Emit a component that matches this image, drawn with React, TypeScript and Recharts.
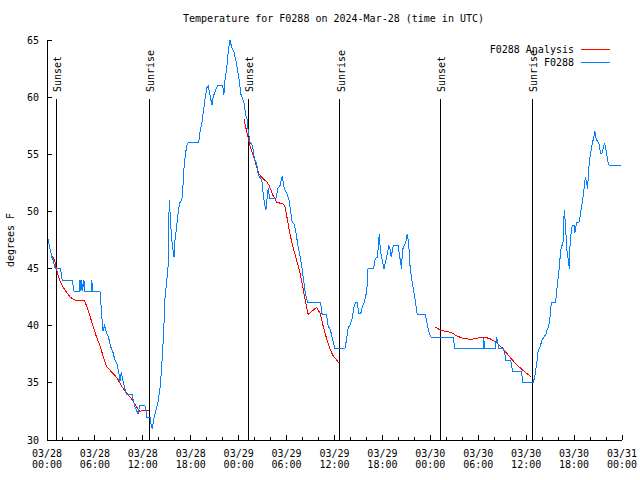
import { LineChart, Line, XAxis, YAxis, ReferenceLine, ReferenceDot, Legend } from 'recharts';

const MONO = '"DejaVu Sans Mono", "Liberation Mono", monospace';
const BLUE = '#0080ff';
const RED = '#ff0000';

// hours since 03/28 00:00 UTC
const xTicks = [0, 2, 4, 6, 8, 10, 12, 14, 16, 18, 20, 22, 24, 26, 28, 30, 32, 34, 36, 38, 40, 42, 44, 46, 48, 50, 52, 54, 56, 58, 60, 62, 64, 66, 68, 70, 72];
const tickDays = ['03/28', '03/28', '03/28', '03/28', '03/29', '03/29', '03/29', '03/29', '03/30', '03/30', '03/30', '03/30', '03/31'];
const tickClock = ['00:00', '06:00', '12:00', '18:00', '00:00', '06:00', '12:00', '18:00', '00:00', '06:00', '12:00', '18:00', '00:00'];
const yTicks = [30, 35, 40, 45, 50, 55, 60, 65];

const sunsetHours = [1.13, 25.2, 49.25];
const sunriseHours = [12.8, 36.67, 60.74];
const sunMarkTop = 59.83;

// station observations [hour, degF]
const observed: [number, number][] = [
  [0, 48], [0.3, 47], [0.6, 46], [0.75, 45.8], [0.95, 45.2], [1.05, 45], [1.7, 45], [1.9, 44],
  [3.15, 44], [3.4, 43], [4.05, 43], [4.13, 44], [4.25, 43], [4.35, 44], [4.45, 43], [4.62, 44],
  [4.75, 43], [5.55, 43], [5.6, 44], [5.75, 43], [6.63, 43], [6.8, 41.5], [7.0, 39.5], [7.2, 40],
  [7.4, 39.5], [7.7, 39], [7.95, 38.2], [8.25, 37.7], [8.5, 37], [8.75, 36.7], [9.0, 35.9], [9.12, 35.1],
  [9.3, 35.9], [9.5, 35.2], [9.75, 34.5], [9.95, 34], [10.65, 34], [10.8, 33.5], [11.0, 32.9], [11.4, 32.3],
  [11.6, 33], [12.25, 33], [12.4, 32.6], [12.47, 32], [12.9, 32], [13.05, 31.3], [13.18, 31], [13.4, 31.9],
  [13.9, 33.3], [14.2, 34.8], [14.35, 36.3], [14.5, 38], [14.64, 40], [14.77, 42.4], [14.98, 43.8], [15.18, 45.3],
  [15.3, 51], [15.45, 49.5], [15.6, 47.6], [15.9, 46], [16.0, 47.3], [16.2, 48.5], [16.4, 49.7], [16.6, 50.7],
  [16.9, 51.1], [17.06, 52.6], [17.2, 54.3], [17.5, 55.8], [17.7, 56], [19.0, 56], [19.15, 56.9], [19.36, 57.6],
  [19.57, 58.7], [19.8, 59.9], [20.0, 60.8], [20.2, 61], [20.4, 60.2], [20.65, 59.3], [20.8, 60], [21.2, 60.8],
  [21.4, 61], [22.0, 61], [22.15, 60.2], [22.3, 61.6], [22.5, 62.5], [22.7, 64], [22.9, 65], [23.15, 64.3],
  [23.4, 64], [23.65, 63.2], [23.9, 62.2], [24.1, 61.3], [24.3, 60.2], [24.5, 59.9], [24.66, 59.5], [24.9, 58.4],
  [25.07, 58], [25.2, 57], [25.4, 56.1], [25.75, 55.7], [25.9, 54.9], [26.0, 54.5], [26.25, 54.2], [26.45, 53.2],
  [26.9, 52.75], [27.1, 51.3], [27.4, 50.1], [27.7, 52], [27.9, 51.1], [28.66, 51.1], [28.9, 52], [29.2, 52.3],
  [29.45, 53.1], [29.7, 52], [30.0, 51.6], [30.3, 51], [30.5, 50], [30.7, 49.1], [31.0, 48.8], [31.25, 47.8],
  [31.45, 46.9], [31.7, 46], [31.9, 45.2], [32.1, 44.15], [32.3, 43.1], [32.5, 42.4], [32.7, 42], [34.25, 42],
  [34.45, 41], [35.0, 41], [35.2, 40], [35.5, 39.6], [35.7, 39], [36.05, 38], [37.3, 38], [37.5, 38.75],
  [37.7, 39.8], [37.9, 40], [38.2, 40.6], [38.4, 41.5], [38.6, 42], [38.85, 42], [39.05, 41.1], [39.3, 41.1],
  [39.5, 41.7], [39.7, 42], [39.9, 42.5], [40.1, 43.5], [40.2, 45], [40.9, 45], [41.1, 45.9], [41.4, 46],
  [41.5, 47.2], [41.6, 48], [41.75, 46.6], [42.0, 45.6], [42.2, 45], [42.4, 45.6], [42.6, 46.3], [42.8, 47],
  [43.0, 46.6], [43.1, 46], [43.3, 46.8], [43.4, 47], [44.0, 47], [44.1, 46.3], [44.3, 45.5], [44.4, 45],
  [44.5, 46.6], [44.7, 47], [44.9, 47.2], [45.1, 48], [45.3, 47.2], [45.4, 45.6], [45.6, 44.4], [45.75, 43.7],
  [45.97, 42.8], [46.15, 42], [46.35, 41], [47.4, 41], [47.5, 40.5], [47.7, 39.8], [47.9, 39.3], [48.1, 39],
  [50.85, 39], [51.07, 38], [54.6, 38], [54.7, 38.9], [54.8, 38], [56.1, 38], [56.3, 39], [56.5, 38.3],
  [56.6, 38], [57.1, 38], [57.3, 37.7], [57.45, 37], [58.07, 37], [58.3, 36], [59.4, 36], [59.6, 35],
  [60.86, 35], [61.07, 35.5], [61.3, 36.6], [61.5, 37.8], [61.7, 38.1], [62.0, 38.75], [62.2, 39], [62.45, 39.2],
  [62.6, 39.6], [62.8, 39.9], [62.95, 40.5], [63.08, 41.5], [63.16, 42], [63.66, 42], [63.8, 42.8], [63.9, 43.6],
  [64.08, 44.6], [64.2, 45.5], [64.3, 46.5], [64.45, 47], [64.6, 47], [64.7, 49.2], [64.8, 50.1], [64.95, 48.4],
  [65.1, 46.6], [65.3, 45.6], [65.4, 45], [65.5, 47.2], [65.67, 48.4], [65.8, 48.8], [66.0, 48.8], [66.1, 48.1],
  [66.3, 49], [66.6, 49], [66.7, 49.25], [66.9, 50.3], [67.05, 50.85], [67.2, 51.7], [67.4, 53], [67.55, 52.6],
  [67.7, 52], [67.8, 53.5], [67.96, 54.65], [68.1, 55.2], [68.25, 55.8], [68.46, 56.5], [68.6, 57], [68.8, 56.25],
  [69.1, 56], [69.3, 55.1], [69.5, 55.1], [69.8, 56], [70.0, 55.4], [70.25, 54.35], [70.4, 54], [71.9, 54],
];

// analysis runs, one per night
const analysisNight1: [number, number][] = [
  [0.7, 46.1], [1.0, 45.6], [1.2, 44.9], [1.5, 44.15], [1.84, 43.6], [2.25, 43.1], [2.9, 42.5], [3.3, 42.3],
  [3.7, 42.2], [4.1, 42.25], [4.67, 42.25], [4.97, 41.7], [5.4, 40.8], [5.8, 39.9], [6.2, 39.0], [6.6, 38.3],
  [7.05, 37.3], [7.47, 36.4], [7.76, 36.2], [8.3, 35.8], [8.8, 35.4], [9.35, 34.7], [9.97, 34.1], [10.6, 33.6],
  [11.2, 32.9], [11.64, 32.5], [12.06, 32.6], [12.77, 32.6],
];
const analysisNight2: [number, number][] = [
  [24.66, 58.1], [25.0, 57.0], [25.4, 55.8], [26.0, 54.5], [26.5, 53.3], [27.0, 52.9], [27.5, 52.6], [27.8, 52.3],
  [28.3, 51.4], [28.75, 50.8], [29.6, 50.65], [29.8, 50.4], [30.1, 49.3], [30.4, 48.1], [30.8, 46.9], [31.25, 45.75],
  [31.7, 44.6], [32.1, 43.1], [32.7, 41.0], [33.75, 41.6], [34.2, 41.1], [34.6, 39.9], [35.0, 38.9], [35.4, 38.0],
  [35.8, 37.4], [36.6, 36.7],
];
const analysisNight3: [number, number][] = [
  [48.56, 39.9], [49.3, 39.6], [50.0, 39.5], [50.65, 39.4], [51.3, 39.1], [52.1, 38.9], [53.15, 38.8], [54.4, 39.0],
  [55.4, 38.9], [56.3, 38.5], [57.1, 38.0], [57.9, 37.3], [58.8, 36.6], [59.6, 36.1], [60.65, 35.5],
];

const toRows = (pts: [number, number][]) => pts.map(([h, temp]) => ({ h, temp }));

function BottomTick(props: any) {
  const { x, y, payload } = props;
  const h = payload.value;
  const major = h % 6 === 0;
  const i = h / 6;
  return (
    <g>
      <line x1={x} x2={x} y1={y} y2={y - (major ? 5 : 3)} stroke="#000" shapeRendering="crispEdges" />
      {major && (
        <text x={x} y={y + 17} textAnchor="middle" fontFamily={MONO} fontSize={10} fill="#000">
          {tickDays[i]}
        </text>
      )}
      {major && (
        <text x={x} y={y + 28} textAnchor="middle" fontFamily={MONO} fontSize={10} fill="#000">
          {tickClock[i]}
        </text>
      )}
    </g>
  );
}

function TopTick(props: any) {
  const { x, y, payload } = props;
  const major = payload.value % 6 === 0;
  return <line x1={x} x2={x} y1={y} y2={y + (major ? 5 : 3)} stroke="#000" shapeRendering="crispEdges" />;
}

function LeftTick(props: any) {
  const { x, y, payload } = props;
  return (
    <g>
      <line x1={x} x2={x + 5} y1={y} y2={y} stroke="#000" shapeRendering="crispEdges" />
      <text x={x - 8} y={y + 3.5} textAnchor="end" fontFamily={MONO} fontSize={10} fill="#000">
        {payload.value}
      </text>
    </g>
  );
}

function RightTick(props: any) {
  const { x, y } = props;
  return <line x1={x} x2={x - 5} y1={y} y2={y} stroke="#000" shapeRendering="crispEdges" />;
}

function sunLabel(text: string) {
  return (p: any) => {
    const tx = p.cx + 5;
    const ty = p.cy - 7;
    return (
      <text x={tx} y={ty} transform={`rotate(-90 ${tx} ${ty})`} fontFamily={MONO} fontSize={10} fill="#000">
        {text}
      </text>
    );
  };
}

function KeyBox() {
  const rows = [
    { name: 'F0288 Analysis', color: RED },
    { name: 'F0288', color: BLUE },
  ];
  return (
    <div style={{ fontFamily: MONO, fontSize: 10, lineHeight: '13px', color: '#000' }}>
      {rows.map((r) => (
        <div key={r.name} style={{ display: 'flex', justifyContent: 'flex-end', alignItems: 'center', height: 13 }}>
          <span>{r.name}</span>
          <span style={{ display: 'inline-block', width: 29, height: 0, borderTop: `1px solid ${r.color}`, marginLeft: 7, marginRight: 10 }} />
        </div>
      ))}
    </div>
  );
}

export default function App() {
  const axisLine = { stroke: '#000', shapeRendering: 'crispEdges' };
  return (
    <div style={{ position: 'absolute', left: 0, top: 0, width: 640, height: 480, background: '#fff', fontFamily: MONO }}>
      <div style={{ position: 'absolute', left: 0, top: 13, width: 667, textAlign: 'center', fontSize: 10, lineHeight: '12px' }}>
        Temperature for F0288 on 2024-Mar-28 (time in UTC)
      </div>
      <div
        style={{
          position: 'absolute', left: -29, top: 233, width: 80, height: 14, textAlign: 'center',
          fontSize: 10, lineHeight: '14px', transform: 'rotate(-90deg)',
        }}
      >
        degrees F
      </div>
      <LineChart width={640} height={480} margin={{ top: 40, right: 18, bottom: 0, left: 0 }}>
        <XAxis
          dataKey="h" type="number" domain={[0, 72]} ticks={xTicks} interval={0} height={40}
          tickSize={0} tickMargin={0} tickLine={false} axisLine={axisLine} tick={BottomTick} allowDataOverflow
        />
        <XAxis
          xAxisId="top" orientation="top" dataKey="h" type="number" domain={[0, 72]} ticks={xTicks} interval={0} height={0}
          tickSize={0} tickMargin={0} tickLine={false} axisLine={axisLine} tick={TopTick} allowDataOverflow
        />
        <YAxis
          type="number" domain={[30, 65]} ticks={yTicks} interval={0} width={47}
          tickSize={0} tickMargin={0} tickLine={false} axisLine={axisLine} tick={LeftTick} allowDataOverflow
        />
        <YAxis
          yAxisId="right" orientation="right" type="number" domain={[30, 65]} ticks={yTicks} interval={0} width={0}
          tickSize={0} tickMargin={0} tickLine={false} axisLine={axisLine} tick={RightTick} allowDataOverflow
        />
        {[...sunsetHours, ...sunriseHours].map((h) => (
          <ReferenceLine
            key={`l${h}`} segment={[{ x: h, y: 30 }, { x: h, y: sunMarkTop }]}
            stroke="#000" strokeWidth={1} shapeRendering="crispEdges"
          />
        ))}
        {sunsetHours.map((h) => (
          <ReferenceDot key={`ss${h}`} x={h} y={sunMarkTop} r={0} shape={sunLabel('Sunset')} />
        ))}
        {sunriseHours.map((h) => (
          <ReferenceDot key={`sr${h}`} x={h} y={sunMarkTop} r={0} shape={sunLabel('Sunrise')} />
        ))}
        {[analysisNight1, analysisNight2, analysisNight3].map((seg, i) => (
          <Line
            key={`a${i}`} data={toRows(seg)} dataKey="temp" name="F0288 Analysis" type="linear"
            stroke={RED} strokeWidth={1} dot={false} isAnimationActive={false} shapeRendering="crispEdges"
          />
        ))}
        <Line
          data={toRows(observed)} dataKey="temp" name="F0288" type="linear"
          stroke={BLUE} strokeWidth={1} dot={false} isAnimationActive={false} shapeRendering="crispEdges"
        />
        <Legend
          layout="vertical" verticalAlign="middle" align="center" content={KeyBox}
          wrapperStyle={{ top: 43, left: 440, width: 180 }}
        />
      </LineChart>
    </div>
  );
}
